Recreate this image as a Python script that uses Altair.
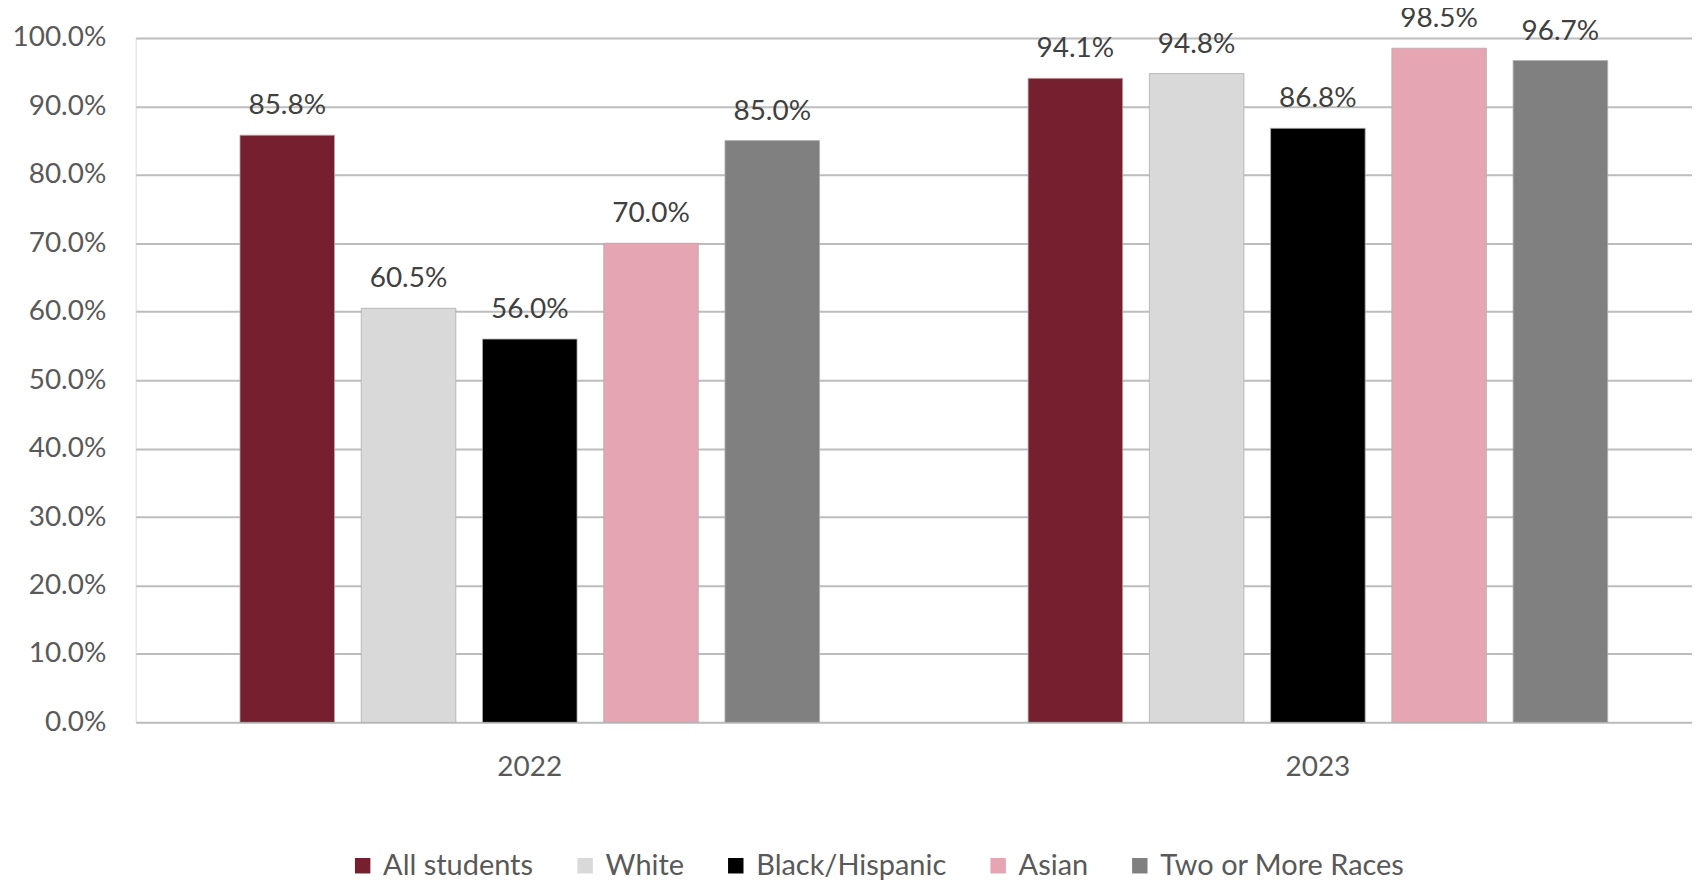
import altair as alt
import pandas as pd

years = ["2022", "2023"]
groups = ["All students", "White", "Black/Hispanic", "Asian", "Two or More Races"]
values_2022 = [0.858, 0.605, 0.560, 0.700, 0.850]
values_2023 = [0.941, 0.948, 0.868, 0.985, 0.967]
colors = ["#76202F", "#D9D9D9", "#000000", "#E6A5B2", "#808080"]
y_ticks = [i / 10 for i in range(11)]

rows = []
for g, v in zip(groups, values_2022):
    rows.append({"year": "2022", "group": g, "value": v})
for g, v in zip(groups, values_2023):
    rows.append({"year": "2023", "group": g, "value": v})
df = pd.DataFrame(rows)

FONT = "Lato"
FS = 28

x_enc = alt.X("year:N", sort=years, title=None,
              scale=alt.Scale(paddingInner=0, paddingOuter=0),
              axis=alt.Axis(labelAngle=0, domain=False, ticks=False, labelPadding=31,
                            labelFontSize=FS, labelColor="#595959", labelFont=FONT))
xo_enc = alt.XOffset("group:N", sort=groups,
                     scale=alt.Scale(paddingInner=0.22, paddingOuter=0.86))
y_enc = alt.Y("value:Q", title=None,
              scale=alt.Scale(domain=[0, 1], nice=False),
              axis=alt.Axis(format=".1%", values=y_ticks, domain=False, ticks=False,
                            labelPadding=30, labelFontSize=FS, labelColor="#595959",
                            labelFont=FONT, gridColor="#BDBDBD", gridWidth=2))

bars = alt.Chart(df).mark_bar(stroke="#AFAFAF", strokeWidth=0.8).encode(
    x=x_enc,
    xOffset=xo_enc,
    y=y_enc,
    color=alt.Color("group:N", sort=groups,
                    scale=alt.Scale(domain=groups, range=colors),
                    legend=alt.Legend(title=None, orient="none", direction="horizontal",
                                      legendX=213, legendY=815,
                                      symbolType="square", symbolSize=240,
                                      symbolStrokeWidth=0,
                                      labelFontSize=29, labelColor="#595959",
                                      labelFont=FONT, columnPadding=37,
                                      labelOffset=6, labelLimit=500)),
)

labels = alt.Chart(df).mark_text(baseline="alphabetic", dy=-21, fontSize=FS,
                                 color="#404040", font=FONT).encode(
    x=alt.X("year:N", sort=years),
    xOffset=alt.XOffset("group:N", sort=groups),
    y="value:Q",
    text=alt.Text("value:Q", format=".1%"),
)

chart = alt.layer(bars, labels).properties(
    width=1580, height=686,
    autosize=alt.AutoSizeParams(type="none"),
    padding={"left": 128, "top": 29, "right": -20, "bottom": 158},
).configure_view(stroke=None).configure(background="white")

chart.save("out.html", embed_options={"renderer": "svg", "actions": False})
